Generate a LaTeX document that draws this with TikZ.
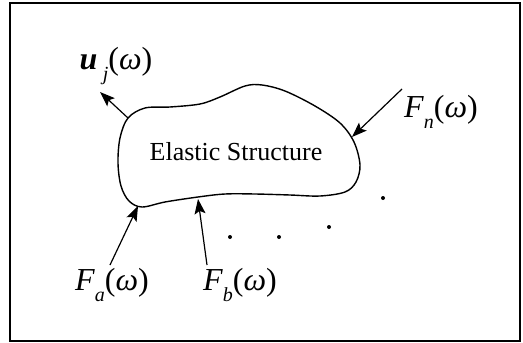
\documentclass[tikz,border=0pt]{standalone}
\usepackage{fontspec}
\setmainfont{Liberation Serif}
\usetikzlibrary{arrows.meta}
\newcommand{\lsub}[1]{\raisebox{-0.32em}{\fontsize{20}{20}\selectfont\itshape #1}}
\begin{document}
\begin{tikzpicture}[x=1pt,y=-1pt,
  force/.style={-{Stealth[length=15pt,width=11pt,inset=3pt]}, line width=1.2pt},
  lab/.style={font=\fontsize{32}{34}\selectfont, inner sep=0pt},
  dotmark/.style={fill, circle, inner sep=0pt, minimum size=4pt},
  blob/.style={line width=1.4pt}]
\useasboundingbox (0,0) rectangle (523,343);
\draw[line width=2pt] (10,3) rectangle (520,341);
% elastic body
\draw[blob] plot[smooth cycle, tension=0.55] coordinates {
  (128,118) (145,108) (170,107) (200,104) (220,97) (245,86) (262,85)
  (285,91) (315,106) (340,123) (354,142) (360,165) (356,182) (345,192)
  (320,196) (290,195) (255,194) (225,194) (198,197) (165,202) (142,207)
  (129,201) (121,186) (118,163) (120,138)};
\node[font=\fontsize{26}{28}\selectfont, inner sep=0pt] (es) at (236,152) {Elastic Structure};
% contact points on the boundary
\coordinate (pu) at (128,118);
\coordinate (pn) at (352,137);
\coordinate (pa) at (138,206);
\coordinate (pb) at (198,199);
% free ends
\coordinate (tu) at (100,92);
\coordinate (tn) at (402,89);
\coordinate (ta) at (110,265);
\coordinate (tb) at (207,265);
% labels
\node[lab] (lu) at (116,66) {\textbf{\textit{u}}\,\lsub{j}(\textit{ω})};
\node[lab] (ln) at (441,112) {\textit{F}\lsub{n}(\textit{ω})};
\node[lab] (la) at (112,285) {\textit{F}\lsub{a}(\textit{ω})};
\node[lab] (lb) at (240,285) {\textit{F}\lsub{b}(\textit{ω})};
% arrows
\draw[force] (pu) -- (tu);
\draw[force] (tn) -- (pn);
\draw[force] (ta) -- (pa);
\draw[force] (tb) -- (pb);
% dots
\node[dotmark] (d1) at (230,237) {};
\node[dotmark] (d2) at (279,237) {};
\node[dotmark] (d3) at (329,227) {};
\node[dotmark] (d4) at (383,198) {};
\end{tikzpicture}
\end{document}
